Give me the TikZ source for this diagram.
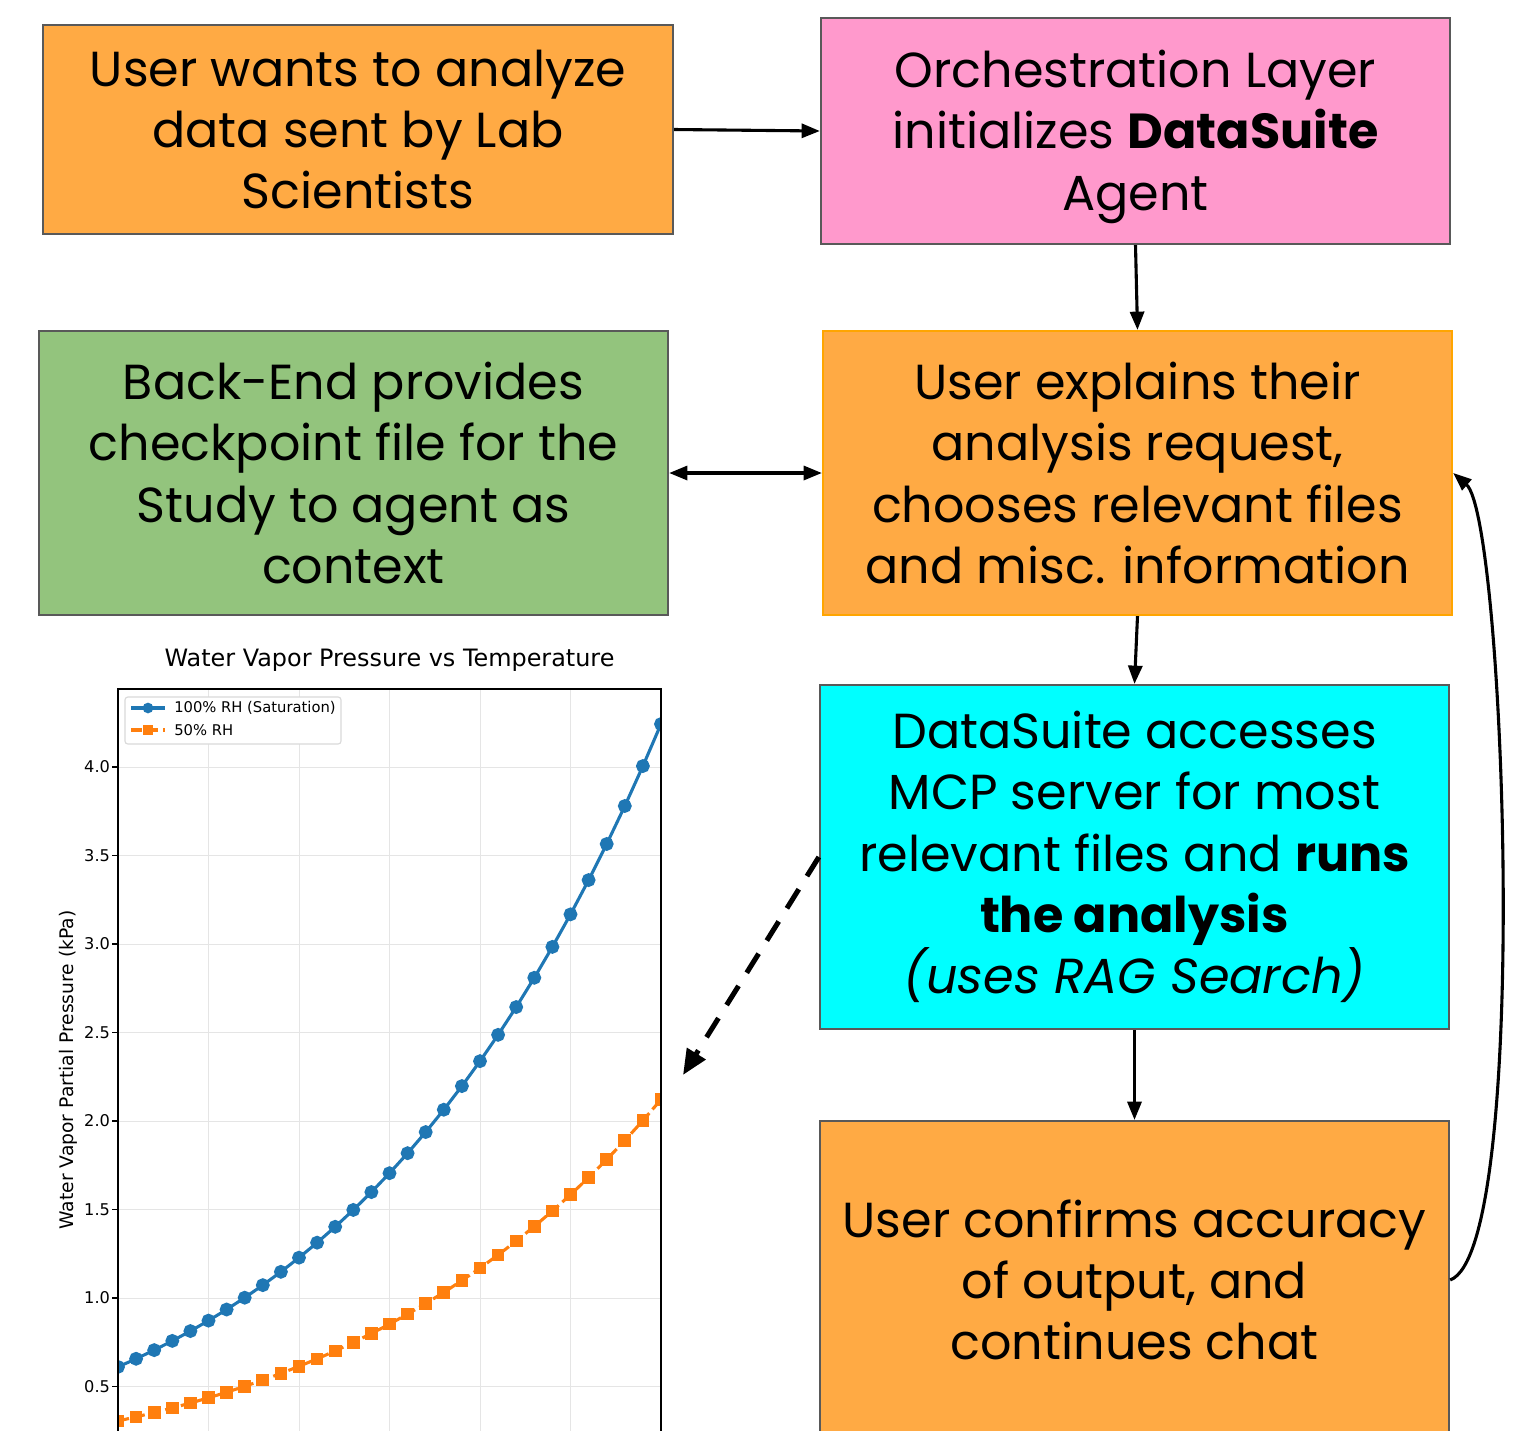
\documentclass[tikz,border=0pt]{standalone}
\usepackage{fontspec}
\setmainfont{Poppins}
\newfontfamily\plotfont{DejaVu Sans}
\usetikzlibrary{arrows.meta,plotmarks}
\definecolor{userorange}{RGB}{255,170,68}
\definecolor{orchpink}{RGB}{255,153,204}
\definecolor{backgreen}{RGB}{147,196,125}
\definecolor{suitecyan}{RGB}{0,255,255}
\definecolor{edgegray}{RGB}{89,89,89}
\definecolor{edgeorange}{RGB}{255,165,0}
\definecolor{mplblue}{RGB}{31,119,180}
\definecolor{mplorange}{RGB}{255,127,14}
\tikzset{
  stepbox/.style={draw=edgegray,line width=1.5pt,align=center,inner sep=0pt,
    font=\fontsize{35}{43.5}\selectfont},
  flow/.style={-{Triangle[length=13pt,width=10pt]},line width=2.2pt},
  gridline/.style={draw=black!10,line width=0.6pt},
}
\newcommand{\satp}[1]{0.6108*exp(17.27*#1/(#1+237.3))}
\begin{document}
\begin{tikzpicture}[x=0.025cm,y=-0.025cm]
        \clip (0,0) rectangle (1522,1430);
        \node[stepbox,fill=userorange,minimum width=15.75cm,minimum height=5.225cm] (want) at (358,129.5) {User wants to analyze\\data sent by Lab\\Scientists};
        \node[stepbox,fill=orchpink,minimum width=15.725cm,minimum height=5.65cm] (orch) at (1135.5,131) {\rule{0pt}{1.0em}Orchestration Layer\\initializes \textbf{DataSuite}\\Agent};
        \node[stepbox,fill=backgreen,minimum width=15.725cm,minimum height=7.1cm] (back) at (353.5,473) {Back-End provides\\checkpoint file for the\\Study to agent as\\context};
        \node[stepbox,draw=edgeorange,fill=userorange,minimum width=15.725cm,minimum height=7.1cm] (explain) at (1137.5,473) {User explains their\\analysis request,\\chooses relevant files\\and misc. information};
        \node[stepbox,fill=suitecyan,minimum width=15.725cm,minimum height=8.6cm] (suite) at (1134.5,857) {DataSuite accesses\\MCP server for most\\relevant files and \textbf{runs}\\\textbf{the analysis}\\\textit{(uses RAG Search)}};
        \node[stepbox,fill=userorange,minimum width=15.725cm,minimum height=7.95cm] (confirm) at (1134.5,1280) {User confirms accuracy\\of output, and\\continues chat};
        \draw[flow] (want.east) -- (orch.west);
        \draw[flow] (orch.south) -- (explain.north);
        \draw[flow,{Triangle[length=13pt,width=10pt]}-{Triangle[length=13pt,width=10pt]}] (back.east) -- (explain.west);
        \draw[flow] (explain.south) -- (suite.north);
        \draw[flow] (suite.south) -- (confirm.north);
        \draw[flow] (confirm.east) .. controls +(81,-30) and +(52,45) .. (explain.east);
        \node[font=\plotfont\fontsize{17}{20}\selectfont] (title) at (389.5,660) {Water Vapor Pressure vs Temperature};
        \begin{scope}
        \clip (118,689) rectangle (661,1440);
        \foreach \t in {5,10,...,25} \draw[gridline] (118+18.1*\t,689) -- (118+18.1*\t,1440);
        \foreach \v in {0.5,1.0,1.5,2.0,2.5,3.0,3.5,4.0} \draw[gridline] (118,767+177*4-177*\v) -- (661,767+177*4-177*\v);
        \draw[mplblue,line width=2.2pt,mark=*,mark size=3.8pt] plot[domain=0:30,samples=31] (118+18.1*\x,{767+177*(4-\satp{\x})});
        \draw[mplorange,line width=2.2pt,dash pattern=on 8pt off 3.5pt,mark=square*,mark size=3.4pt,mark options={solid}] plot[domain=0:30,samples=31] (118+18.1*\x,{767+177*(4-0.5*\satp{\x})});
        \end{scope}
        \draw[line width=1pt] (118,1440) -- (118,689) -- (661,689) -- (661,1440);
        \foreach \v in {0.5,1.0,1.5,2.0,2.5,3.0,3.5,4.0}
          \draw[line width=0.8pt] (112,767+177*4-177*\v) -- (118,767+177*4-177*\v) node[left=2pt,font=\plotfont\fontsize{11.5}{13}\selectfont] {\v};
        \node[rotate=90,font=\plotfont\fontsize{13.3}{16}\selectfont] (ylabel) at (68,1070) {Water Vapor Partial Pressure (kPa)};
        \draw[black!15,fill=white,rounded corners=2pt,line width=0.8pt] (125,697) rectangle (341,744);
        \draw[mplblue,line width=2.2pt] (131,708) -- (165,708);
        \fill[mplblue] (148,708) circle (3.8pt);
        \node[anchor=west,font=\plotfont\fontsize{10.5}{12}\selectfont,inner sep=0pt] (leg1) at (174,708) {100\% RH (Saturation)};
        \draw[mplorange,line width=2.2pt,dash pattern=on 8pt off 3.5pt] (131,730) -- (165,730);
        \fill[mplorange] (148,730) +(-3.4pt,-3.4pt) rectangle +(3.4pt,3.4pt);
        \node[anchor=west,font=\plotfont\fontsize{10.5}{12}\selectfont,inner sep=0pt] (leg2) at (174,730) {50\% RH};
        \coordinate (plotpt) at (683,1075);
        \draw[-{Triangle[length=18pt,width=15pt]},line width=3.6pt,dash pattern=on 16pt off 11pt] (suite.west) -- (plotpt);
        \end{tikzpicture}
\end{document}
